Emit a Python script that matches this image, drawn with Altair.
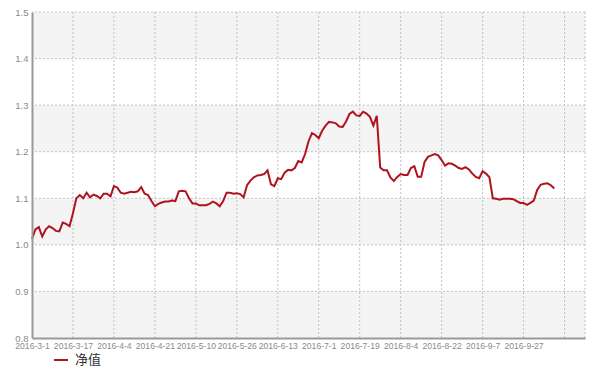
import altair as alt
import pandas as pd

# Daily NAV values (index = trading day since 2016-3-1)
nav = [
    1.013, 1.033, 1.038, 1.018, 1.033, 1.040, 1.036, 1.030, 1.029, 1.048,
    1.045, 1.040, 1.068, 1.100, 1.107, 1.100, 1.112, 1.102, 1.108, 1.105,
    1.100, 1.110, 1.110, 1.104, 1.126, 1.123, 1.112, 1.110, 1.112, 1.114,
    1.113, 1.115, 1.124, 1.110, 1.107, 1.094, 1.083, 1.088, 1.091, 1.093,
    1.093, 1.095, 1.094, 1.115, 1.116, 1.115, 1.100, 1.089, 1.089, 1.085,
    1.085, 1.085, 1.088, 1.093, 1.089, 1.083, 1.094, 1.112, 1.112, 1.110,
    1.111, 1.109, 1.102, 1.128, 1.138, 1.145, 1.149, 1.150, 1.152, 1.160,
    1.130, 1.126, 1.143, 1.141, 1.155, 1.161, 1.160, 1.165, 1.180, 1.177,
    1.195, 1.222, 1.240, 1.236, 1.229, 1.245, 1.256, 1.264, 1.263, 1.261,
    1.254, 1.253, 1.265, 1.281, 1.286, 1.278, 1.277, 1.286, 1.282, 1.275,
    1.256, 1.277, 1.166, 1.160, 1.160, 1.145, 1.137, 1.146, 1.152, 1.150,
    1.150, 1.165, 1.169, 1.146, 1.146, 1.178, 1.189, 1.192, 1.195, 1.192,
    1.182, 1.170, 1.175, 1.174, 1.170, 1.165, 1.163, 1.167, 1.162, 1.153,
    1.146, 1.143, 1.158, 1.153, 1.145, 1.100, 1.099, 1.097, 1.099, 1.099,
    1.099, 1.098, 1.094, 1.090, 1.090, 1.086, 1.090, 1.095, 1.118, 1.129,
    1.131, 1.132, 1.128, 1.121,
]

tick_labels = [
    "2016-3-1", "2016-3-17", "2016-4-4", "2016-4-21", "2016-5-10",
    "2016-5-26", "2016-6-13", "2016-7-1", "2016-7-19", "2016-8-4",
    "2016-8-22", "2016-9-7", "2016-9-27",
]
x_ticks = [0, 12, 24, 36, 48, 60, 72, 84, 96, 108, 120, 132, 144]
x_grid = [12, 24, 36, 48, 60, 72, 84, 96, 108, 120, 132, 144, 156, 162]
x_domain = [0, 162]
y_ticks = [0.8, 0.9, 1.0, 1.1, 1.2, 1.3, 1.4, 1.5]
y_grid = [0.9, 1.0, 1.1, 1.2, 1.3, 1.4, 1.5]
band_low = [0.8, 1.0, 1.2, 1.4]
band_high = [0.9, 1.1, 1.3, 1.5]
series_name = "净值"

df = pd.DataFrame({"i": list(range(len(nav))), "nav": nav, "series": series_name})
bands = pd.DataFrame({"y": band_low, "y2": band_high})
xg = pd.DataFrame({"v": x_grid})
yg = pd.DataFrame({"v": y_grid})

label_arr = "[" + ",".join("'" + t + "'" for t in tick_labels) + "]"
label_expr = f"{label_arr}[round(datum.value / 12)]"

x_scale = alt.Scale(domain=x_domain, nice=False, zero=False)
y_scale = alt.Scale(domain=[0.8, 1.5], nice=False, zero=False)

x_axis = alt.Axis(values=x_ticks, labelExpr=label_expr, grid=False, ticks=False,
                  domainColor="#999999", domainWidth=2, labelFontSize=8.6,
                  labelColor="#8a8a8a", labelPadding=3, labelOverlap=False,
                  labelFlush=False, labelFont="Liberation Sans", title=None, zindex=1)
y_axis = alt.Axis(values=y_ticks, format=".1f", grid=False, ticks=False,
                  domainColor="#999999", domainWidth=2, labelFontSize=9.5,
                  labelColor="#8a8a8a", labelPadding=4, labelFont="Liberation Sans",
                  title=None, zindex=1)

grid_color = "#c2c2c2"

band_layer = alt.Chart(bands).mark_rect(color="#f4f4f4").encode(
    y=alt.Y("y:Q", scale=y_scale, axis=y_axis),
    y2="y2:Q",
)

vgrid = alt.Chart(xg).mark_rule(color=grid_color, strokeDash=[2, 2], strokeWidth=1).encode(
    x=alt.X("v:Q", scale=x_scale, axis=x_axis),
)
hgrid = alt.Chart(yg).mark_rule(color=grid_color, strokeDash=[2, 2], strokeWidth=1).encode(
    y=alt.Y("v:Q", scale=y_scale, axis=y_axis),
)

line_layer = alt.Chart(df).mark_line(strokeWidth=2).encode(
    x=alt.X("i:Q", scale=x_scale, axis=x_axis),
    y=alt.Y("nav:Q", scale=y_scale, axis=y_axis),
    color=alt.Color("series:N", scale=alt.Scale(range=["#b0131d"]),
                    legend=alt.Legend(orient="none", legendX=21, legendY=340, title=None,
                                      symbolType="stroke", symbolSize=196,
                                      symbolStrokeWidth=2, labelFontSize=13,
                                      labelColor="#333333", labelFont="Noto Sans CJK SC",
                                      padding=0, labelOffset=6)),
)

chart = alt.layer(band_layer, vgrid, hgrid, line_layer).properties(
    width=553, height=326,
    autosize=alt.AutoSizeParams(type="none"),
    padding={"left": 24, "top": 4, "right": 3, "bottom": 30},
    background="white",
).configure_view(strokeWidth=0)

chart.save("out.html", embed_options={"renderer": "svg", "actions": False})
